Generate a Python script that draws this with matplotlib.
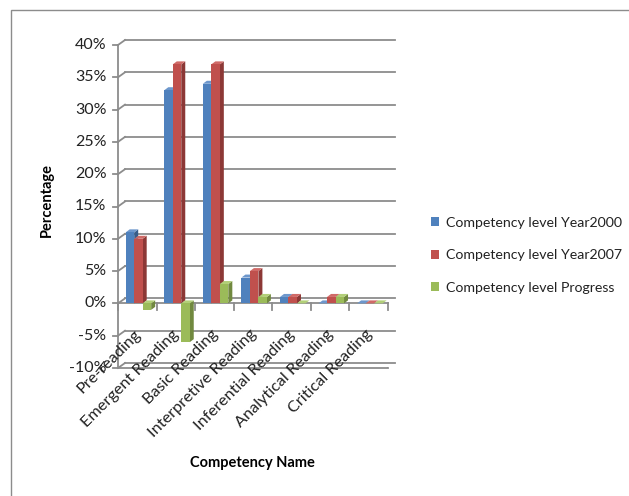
import matplotlib
matplotlib.use("Agg")
import matplotlib.pyplot as plt
from matplotlib.patches import Polygon, Rectangle, Patch
from matplotlib.lines import Line2D
from matplotlib.transforms import ScaledTranslation
import numpy as np

plt.rcParams['font.family'] = ['Lato', 'DejaVu Sans']

categories = ["Pre-reading", "Emergent Reading", "Basic Reading", "Interpretive Reading",
              "Inferential Reading", "Analytical Reading", "Critical Reading"]
year2000 = [11, 33, 34, 4, 1, 0, 0]
year2007 = [10, 37, 37, 5, 1, 1, 0]
progress = [-1, -6, 3, 1, 0, 1, 0]
series_names = ["Competency level Year2000", "Competency level Year2007", "Competency level Progress"]
yticks = [-10, -5, 0, 5, 10, 15, 20, 25, 30, 35, 40]

front = ["#4F81BD", "#C0504D", "#9BBB59"]
side = ["#385D8A", "#8C3836", "#71893F"]
top = ["#6D97CC", "#D06A67", "#B2CF78"]

W, H = 629, 496
fig = plt.figure(figsize=(W / 100, H / 100), dpi=100)
ax = fig.add_axes([118 / W, 1 - 368 / H, (388 - 118) / W, (368 - 45) / H])
ax.set_xlim(0, len(categories))
ax.set_ylim(-10, 40)
ax.axis('off')

# outer frame
fig.patches.append(Rectangle((11 / W, -0.1), 2, 1 - 10 / H + 0.1, transform=fig.transFigure,
                             fill=False, edgecolor="#8c8c8c", lw=1))

grid_c = "#8c8c8c"
dx, dy = 7 / 100, 5 / 100  # back wall offset in inches
back = ax.transData + ScaledTranslation(dx, dy, fig.dpi_scale_trans)
n = len(categories)

# back gridlines and diagonals
for t in yticks:
    ax.plot([0, n], [t, t], color=grid_c, lw=1.3, transform=back, clip_on=False)
    p0 = ax.transData.transform((0, t))
    p1 = back.transform((0, t))
    ax.add_line(Line2D([p0[0], p1[0]], [p0[1], p1[1]], color=grid_c, lw=1.3,
                       transform=None, clip_on=False))
    ax.add_line(Line2D([p0[0] - 5, p0[0]], [p0[1], p0[1]], color=grid_c, lw=1.3,
                       transform=None, clip_on=False))
    ax.text(-0.3, t, f"{t}%", ha='right', va='center', fontsize=11.5, color="#222222",
            transform=ax.transData, clip_on=False)
# left axis
ax.plot([0, 0], [-10, 40], color=grid_c, lw=1.3, clip_on=False)

# zero floor front line with category ticks
ax.plot([0, n], [0, 0], color=grid_c, lw=1.3, clip_on=False)
for i in range(n + 1):
    p = ax.transData.transform((i, 0))
    ax.add_line(Line2D([p[0], p[0]], [p[1], p[1] - 7], color=grid_c, lw=1.3,
                       transform=None, clip_on=False))
pa = ax.transData.transform((n, 0)); pb = back.transform((n, 0))
ax.add_line(Line2D([pa[0], pb[0]], [pa[1], pb[1]], color=grid_c, lw=1.3, transform=None))
pa = ax.transData.transform((n, -10)); pb = back.transform((n, -10))
ax.add_line(Line2D([pa[0], pb[0]], [pa[1], pb[1]], color=grid_c, lw=1.3, transform=None))
ax.plot([0, n], [-10, -10], color=grid_c, lw=1.3, clip_on=False)

# 3D bars
bw = 0.22
start = 0.2
ddx, ddy = 4, 3  # pixel depth
series = [year2000, year2007, progress]
for s, vals in enumerate(series):
    for i, v in enumerate(vals):
        x0 = i + start + s * bw
        x1 = x0 + bw
        lo, hi = min(0, v), max(0, v)
        a = ax.transData.transform((x0, lo))
        b = ax.transData.transform((x1, hi))
        sidep = [(b[0], a[1]), (b[0] + ddx, a[1] + ddy), (b[0] + ddx, b[1] + ddy), (b[0], b[1])]
        fig.patches.append(Polygon(sidep, closed=True, transform=None, facecolor=side[s],
                                   edgecolor='none', zorder=3))
        topp = [(a[0], b[1]), (a[0] + ddx, b[1] + ddy), (b[0] + ddx, b[1] + ddy), (b[0], b[1])]
        fig.patches.append(Polygon(topp, closed=True, transform=None, facecolor=top[s],
                                   edgecolor='none', zorder=3))
        fig.patches.append(Rectangle((a[0], a[1]), b[0] - a[0], max(b[1] - a[1], 0.5),
                                     transform=None, facecolor=front[s], edgecolor='none', zorder=3))

# category labels
for i, c in enumerate(categories):
    ax.text(i + 0.4, -3.7, c, rotation=45, rotation_mode='anchor', ha='right', va='top',
            fontsize=11.7, color="#222222", clip_on=False)

fig.text(47 / W, 1 - 200 / H, "Percentage", rotation=90, ha='center', va='center',
         fontsize=10.5, fontweight='bold')
fig.text(252 / W, 1 - 463 / H, "Competency Name", ha='center', va='center',
         fontsize=10.5, fontweight='bold')

handles = [Patch(facecolor=front[k], edgecolor='none') for k in range(3)]
fig.legend(handles, series_names, loc='upper left', bbox_to_anchor=(418 / W, 1 - 204 / H),
           frameon=False, fontsize=10.2, handlelength=0.6, handleheight=0.6,
           handletextpad=0.45, labelspacing=1.45, labelcolor="#222222")

fig.savefig("out.png", dpi=100, facecolor='white')
